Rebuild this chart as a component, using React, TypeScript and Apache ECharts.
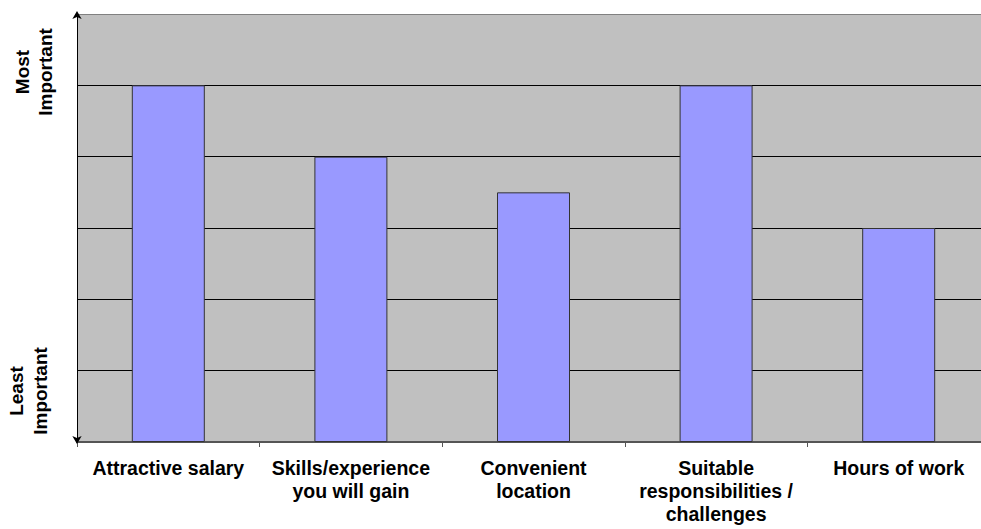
import React, { useEffect, useRef } from "react";
import * as echarts from "echarts";

const categories = [
  "Attractive salary",
  "Skills/experience\nyou will gain",
  "Convenient\nlocation",
  "Suitable\nresponsibilities /\nchallenges",
  "Hours of work",
];
const importance = [5, 4, 3.5, 5, 3];
const yMin = 0;
const yMax = 6;
const yInterval = 1;
const topLabel = "Most\nImportant";
const bottomLabel = "Least\nImportant";

const FONT = 'Arial, "Liberation Sans", sans-serif';

export default function App() {
  const ref = useRef<HTMLDivElement>(null);
  useEffect(() => {
    if (!ref.current) return;
    const chart = echarts.init(ref.current, null, { renderer: "svg" });
    chart.setOption({
      animation: false,
      backgroundColor: "#ffffff",
      grid: {
        left: 77,
        width: 913,
        top: 14,
        bottom: 87,
        outerBoundsMode: "none",
        containLabel: false,
        show: true,
        backgroundColor: "#C0C0C0",
        borderWidth: 0,
      },
      xAxis: {
        type: "category",
        data: categories,
        boundaryGap: true,
        axisLine: { lineStyle: { color: "#555555", width: 2 } },
        axisTick: { show: true, length: 5, lineStyle: { color: "#555555", width: 1 } },
        axisLabel: {
          interval: 0,
          color: "#000000",
          fontFamily: FONT,
          fontWeight: "bold",
          fontSize: 19.5,
          lineHeight: 23,
          margin: 14,
          align: "center",
        },
      },
      yAxis: {
        type: "value",
        min: yMin,
        max: yMax,
        interval: yInterval,
        axisLabel: { show: false },
        axisTick: { show: false },
        axisLine: {
          show: true,
          lineStyle: { color: "#000000", width: 1 },
          symbol: ["arrow", "arrow"],
          symbolSize: [7, 8],
          symbolOffset: [-2, 3],
        },
        splitLine: {
          show: true,
          lineStyle: {
            color: ["#000000", "#000000", "#000000", "#000000", "#000000", "#000000", "#808080"],
            width: 1,
          },
        },
      },
      series: [
        {
          type: "bar",
          data: importance,
          barWidth: 73,
          itemStyle: { color: "#9999FF", borderColor: "#333333", borderWidth: 1 },
        },
      ],
      graphic: [
        {
          type: "text",
          x: 34,
          y: 72,
          rotation: Math.PI / 2,
          style: {
            text: topLabel,
            fill: "#000000",
            font: `bold 19px ${FONT}`,
            lineHeight: 23,
            align: "center",
            verticalAlign: "middle",
          },
        },
        {
          type: "text",
          x: 28,
          y: 391,
          rotation: Math.PI / 2,
          style: {
            text: bottomLabel,
            fill: "#000000",
            font: `bold 19px ${FONT}`,
            lineHeight: 24,
            align: "center",
            verticalAlign: "middle",
          },
        },
      ],
    });
    return () => chart.dispose();
  }, []);
  return (
    <div
      ref={ref}
      style={{ position: "fixed", left: 0, top: 0, width: 981, height: 529 }}
    />
  );
}
